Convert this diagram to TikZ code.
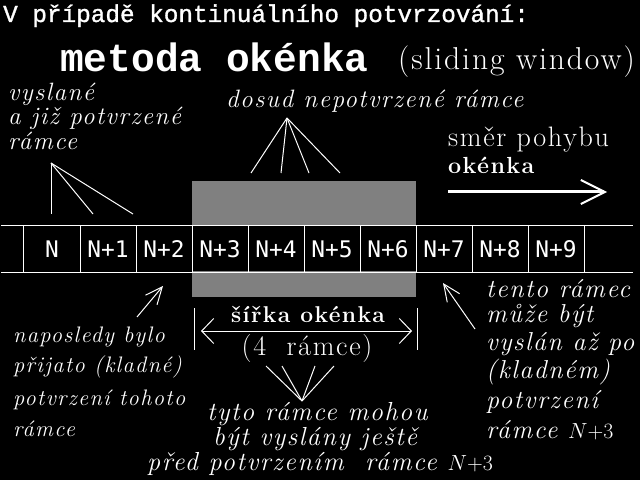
\documentclass[tikz,border=0pt]{standalone}
\usepackage{fontspec}
\setmainfont{Latin Modern Roman}[LetterSpace=6]
\setmonofont{Liberation Mono}
\newfontfamily\titlefont{Liberation Mono}[FakeBold=1.2]
\newfontfamily\cellfont{DejaVu Sans Mono}
\usetikzlibrary{arrows.meta,positioning}
\tikzset{
  wire/.style={draw=white,line width=0.4mm},
  txt/.style={text=white,inner sep=0pt,anchor=base west},
  cellbox/.style={draw=white,line width=0.4mm,minimum width=22.4mm,minimum height=18.4mm,
    inner sep=0pt,text=white,font=\cellfont\fontsize{26}{26}\selectfont},
  barb/.style={-{Straight Barb[length=6.8mm,width=6mm]}},
  span/.style={{Straight Barb[length=4.8mm,width=10mm]}-{Straight Barb[length=4.8mm,width=10mm]}},
  window/.style={fill=white!50!black},
}

\begin{document}
\begin{tikzpicture}[x=0.4mm,y=-0.4mm]
  \useasboundingbox (0,0) rectangle (640,480);
  \fill[black] (0,0) rectangle (640,480);
  % headings
  \node[txt,font=\titlefont\fontsize{27.7}{30}\selectfont] (title) at (3,22) {V případě kontinuálního potvrzování:};
  \node[txt,font=\ttfamily\bfseries\fontsize{45}{48}\selectfont] (method) at (60,72) {metoda okénka};
  \node[txt,font=\fontsize{36}{36}\selectfont] (english) at (398,70) {(sliding~window)};
  % the window, shaded above and below the frames
  \fill[window] (192,181) rectangle (416,225);
  \fill[window] (192,271) rectangle (416,297);
  % frames
  \foreach \lbl [count=\i from 0] in {N,N+1,N+2,N+3,N+4,N+5,N+6,N+7,N+8,N+9}
    \node[cellbox] (c\i) at (52+56*\i,249) {\lbl};
  \draw[wire] (c0.north west) -- ++(-22,0);
  \draw[wire] (c0.south west) -- ++(-22,0);
  \draw[wire] (c9.north east) -- ++(48,0);
  \draw[wire] (c9.south east) -- ++(48,0);
  % already sent and acknowledged
  \foreach \txt/\yy [count=\i] in {vyslané/101,a již potvrzené/125,rámce/150}
    \node[txt,font=\itshape\fontsize{28.5}{28}\selectfont] (sent\i) at (8,\yy) {\txt};
  \coordinate (sentTip) at (51,163);
  \foreach \xx [count=\i] in {51,93,133}{
    \coordinate (sentEnd\i) at (\xx,214);
    \draw[wire] (sentTip) -- (sentEnd\i);}
  % not yet acknowledged
  \node[txt,font=\itshape\fontsize{28.6}{28}\selectfont] (pending) at (226,108) {dosud nepotvrzené~rámce};
  \coordinate (pendTip) at (287,118);
  \foreach \xx [count=\i] in {251,281,309,340}{
    \coordinate (pendEnd\i) at (\xx,173);
    \draw[wire] (pendTip) -- (pendEnd\i);}
  % direction of movement
  \node[txt,font=\fontsize{32}{32}\selectfont] (dir) at (448,147) {směr~pohybu};
  \node[txt,font=\bfseries\fontsize{26.5}{26}\selectfont] (dirwin) at (448,174) {okénka};
  \coordinate (dirA) at (448,192);
  \coordinate (dirB) at (607,192);
  \draw[wire,line width=1.2mm,-{Straight Barb[length=9.6mm,width=9.6mm,line width=0.8mm]}] (dirA) -- (dirB);
  % window width
  \node[txt,anchor=base,font=\bfseries\fontsize{26}{26}\selectfont] (wwidth) at (308,322) {šířka okénka};
  \node[txt,anchor=base,font=\fontsize{32}{32}\selectfont] (wcount) at (307,355) {(4~~rámce)};
  \coordinate (wL) at (201,331);
  \coordinate (wR) at (412,331);
  \draw[wire] (wL) ++(-7,-23) -- ++(0,42);
  \draw[wire] (wR) ++(5,-23) -- ++(0,42);
  \draw[wire,span] (wL) -- (wR);
  % last acknowledged
  \foreach \txt/\yy [count=\i] in {naposledy bylo/342,přijato (kladné)/372,potvrzení tohoto/405,rámce/436}
    \node[txt,font=\itshape\fontsize{25.5}{25}\selectfont] (last\i) at (13,\yy) {\txt};
  \coordinate (lastA) at (137,317);
  \coordinate (lastB) at (163,286);
  \draw[wire,barb] (lastA) -- (lastB);
  % next frame
  \foreach \txt/\yy [count=\i] in {tento rámec/297,může být/322,vyslán až po/350,(kladném)/378,potvrzení/408,rámce $N{+}3$/438}
    \node[txt,font=\itshape\fontsize{29.5}{29}\selectfont] (next\i) at (486,\yy) {\txt};
  \coordinate (nextA) at (475,329);
  \coordinate (nextB) at (443,283);
  \draw[wire,barb] (nextA) -- (nextB);
  % frames that may be sent
  \foreach \txt/\xx/\yy [count=\i] in {tyto rámce mohou/207/420,být vyslány ještě/213/445,před potvrzením~~rámce $N{+}3$/147/470}
    \node[txt,font=\itshape\fontsize{29.7}{29}\selectfont] (may\i) at (\xx,\yy) {\txt};
  \coordinate (mayTip) at (302,401);
  \foreach \xx [count=\i] in {266,282,315,334}{
    \coordinate (mayEnd\i) at (\xx,366);
    \draw[wire] (mayEnd\i) -- (mayTip);}
\end{tikzpicture}
\end{document}
